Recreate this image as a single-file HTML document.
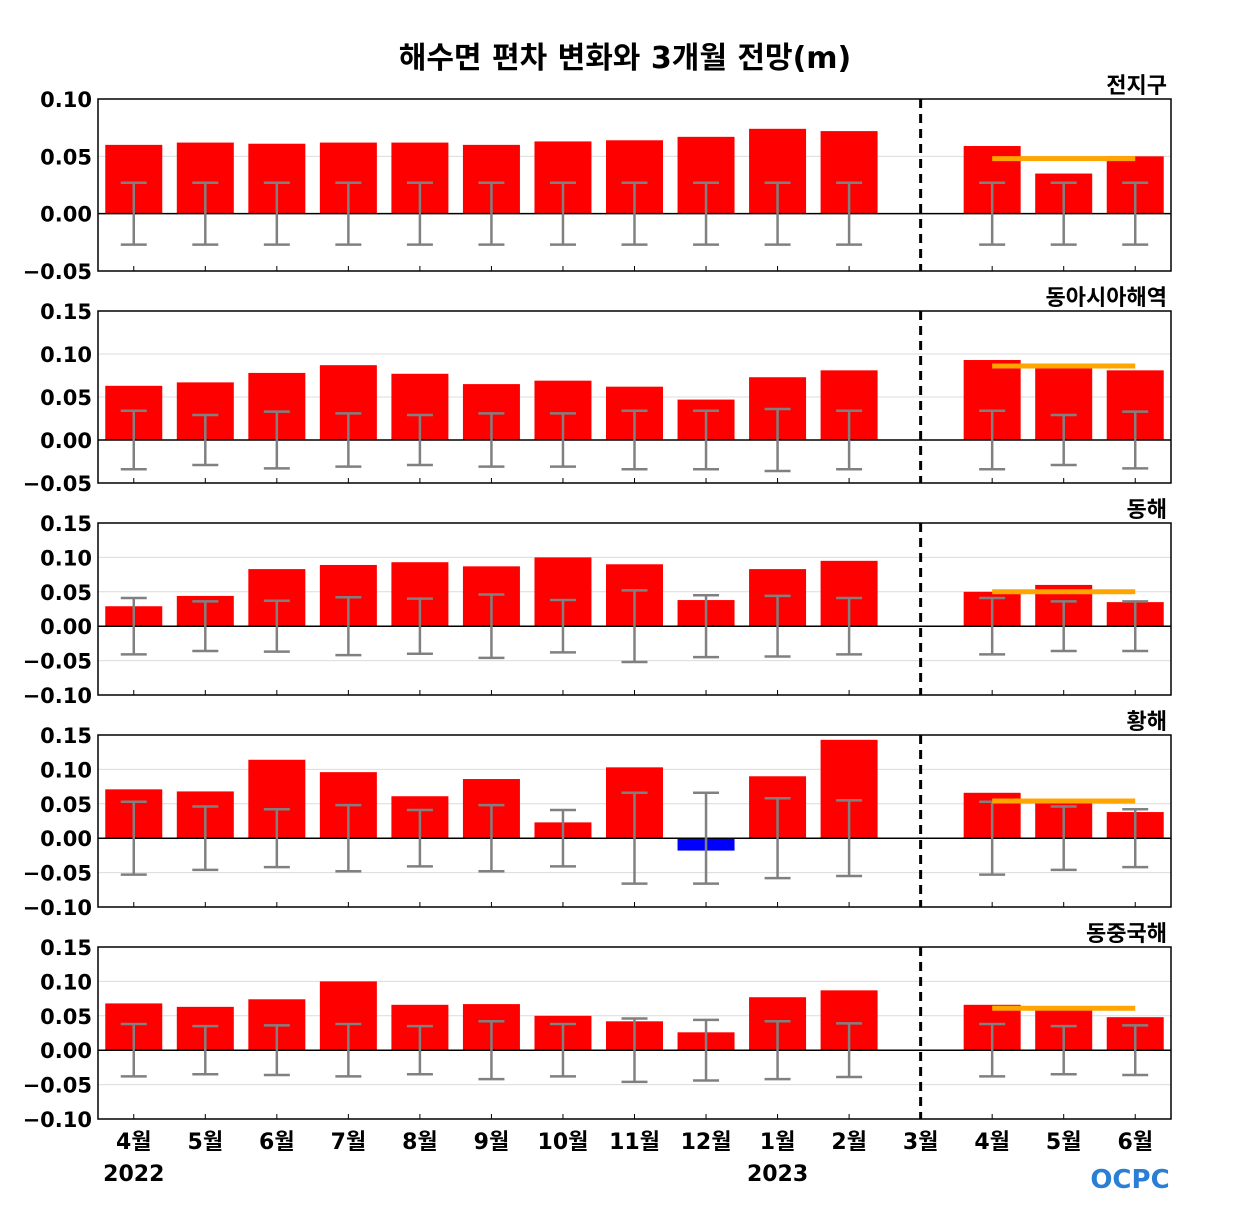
<!DOCTYPE html>
<html><head><meta charset="utf-8">
<style>
body{margin:0;background:#fff;}
svg text{font-family:"DejaVu Sans","Noto Sans CJK KR",sans-serif;}
</style></head>
<body>
<svg id="c" width="1250" height="1200" xmlns="http://www.w3.org/2000/svg">
<rect width="1250" height="1200" fill="#fff"/>
<text x="625" y="68" text-anchor="middle" font-size="30" font-weight="bold">해수면 편차 변화와 3개월 전망(m)</text>
</svg>
<script>
const months=["4월","5월","6월","7월","8월","9월","10월","11월","12월","1월","2월","3월","4월","5월","6월"];
const regionNames=["전지구","동아시아해역","동해","황해","동중국해"];
const vals1=[0.060,0.062,0.061,0.062,0.062,0.060,0.063,0.064,0.067,0.074,0.072,null,0.059,0.035,0.050];
const err1=[0.027,0.027,0.027,0.027,0.027,0.027,0.027,0.027,0.027,0.027,0.027,null,0.027,0.027,0.027];
const vals2=[0.063,0.067,0.078,0.087,0.077,0.065,0.069,0.062,0.047,0.073,0.081,null,0.093,0.084,0.081];
const err2=[0.034,0.029,0.033,0.031,0.029,0.031,0.031,0.034,0.034,0.036,0.034,null,0.034,0.029,0.033];
const vals3=[0.029,0.044,0.083,0.089,0.093,0.087,0.100,0.090,0.038,0.083,0.095,null,0.050,0.060,0.035];
const err3=[0.041,0.036,0.037,0.042,0.040,0.046,0.038,0.052,0.045,0.044,0.041,null,0.041,0.036,0.036];
const vals4=[0.071,0.068,0.114,0.096,0.061,0.086,0.023,0.103,-0.018,0.090,0.143,null,0.066,0.057,0.038];
const err4=[0.053,0.046,0.042,0.048,0.041,0.048,0.041,0.066,0.066,0.058,0.055,null,0.053,0.046,0.042];
const vals5=[0.068,0.063,0.074,0.100,0.066,0.067,0.050,0.042,0.026,0.077,0.087,null,0.066,0.063,0.048];
const err5=[0.038,0.035,0.036,0.038,0.035,0.042,0.038,0.046,0.044,0.042,0.039,null,0.038,0.035,0.036];
const outlook=[0.048,0.086,0.050,0.054,0.061];
const yMins=[-0.05,-0.05,-0.10,-0.10,-0.10];
const yMaxs=[0.10,0.15,0.15,0.15,0.15];
const yTicks=[[-0.05,0,0.05,0.10],[-0.05,0,0.05,0.10,0.15],[-0.10,-0.05,0,0.05,0.10,0.15],[-0.10,-0.05,0,0.05,0.10,0.15],[-0.10,-0.05,0,0.05,0.10,0.15]];
const allVals=[vals1,vals2,vals3,vals4,vals5];
const allErr=[err1,err2,err3,err4,err5];
const tops=[99,311,523,735,947];
const svg=document.getElementById('c');
const NS="http://www.w3.org/2000/svg";
const L=98,R=1171,H=172,N=months.length,step=(R-L)/N;
function xc(i){return L+step*(i+0.5);}
function mk(tag,a,p){const e=document.createElementNS(NS,tag);for(const k in a)e.setAttribute(k,a[k]);(p||svg).appendChild(e);return e;}
function fmt(v){return (v<0?"\u2212":"")+Math.abs(v).toFixed(2);}
for(let p=0;p<5;p++){
  const top=tops[p],bot=top+H,mn=yMins[p],mx=yMaxs[p];
  const y=v=>bot-(v-mn)/(mx-mn)*H;
  const g=mk('g',{});
  
  
  yTicks[p].forEach(t=>{
    const gl=mk('line',{x1:L,x2:R,y1:y(t),y2:y(t),stroke:'#dcdcdc','stroke-width':1},g);
    
    
    const tl=mk('text',{x:92,y:y(t)+8,'text-anchor':'end','font-size':21,'font-weight':'bold'},g);
    tl.textContent=fmt(t);
    
    
  });
  const vs=allVals[p],es=allErr[p];
  vs.forEach((v,i)=>{
    if(v===null)return;
    const b=mk('rect',{x:xc(i)-28.5,width:57,y:Math.min(y(v),y(0)),height:Math.abs(y(v)-y(0)),fill:v<0?'#0000ff':'#ff0000'},g);
    
    
  });
  const z=mk('line',{x1:L,x2:R,y1:y(0),y2:y(0),stroke:'#000','stroke-width':1.5},g);
  
  
  es.forEach((e,i)=>{
    if(e===null)return;
    const x=xc(i);
    const eg=mk('g',{stroke:'#808080','stroke-width':2.5},g);
    
    
    mk('line',{x1:x,x2:x,y1:y(e),y2:y(-e)},eg);
    mk('line',{x1:x-13,x2:x+13,y1:y(e),y2:y(e)},eg);
    mk('line',{x1:x-13,x2:x+13,y1:y(-e),y2:y(-e)},eg);
  });
  const o=mk('line',{x1:xc(12),x2:xc(14),y1:y(outlook[p]),y2:y(outlook[p]),stroke:'#ffa500','stroke-width':5},g);
  
  
  const d=mk('line',{x1:xc(11),x2:xc(11),y1:top,y2:bot,stroke:'#000','stroke-width':3,'stroke-dasharray':'9,6'},g);
  
  
  for(let i=0;i<N;i++){mk('line',{x1:xc(i),x2:xc(i),y1:bot,y2:bot-5,stroke:'#000','stroke-width':1},g);}
  const fr=mk('rect',{x:L,y:top,width:R-L,height:H,fill:'none',stroke:'#000','stroke-width':1.5},g);
  
  
  const rt=mk('text',{x:1167,y:top-6,'text-anchor':'end','font-size':22,'font-weight':'bold'},g);
  rt.textContent=regionNames[p];
  
  
}
months.forEach((m,i)=>{
  const t=mk('text',{x:xc(i),y:1149,'text-anchor':'middle','font-size':22,'font-weight':'bold'});
  t.textContent=m;
  
  
});
[[0,"2022"],[9,"2023"]].forEach(([i,s])=>{
  const t=mk('text',{x:xc(i),y:1181,'text-anchor':'middle','font-size':22,'font-weight':'bold'});
  t.textContent=s;
  
  
});
const lg=mk('text',{x:1130,y:1188,'text-anchor':'middle','font-size':26,'font-weight':'bold',fill:'#2a7fd4'});
lg.textContent="OCPC";


</script>
</body></html>
